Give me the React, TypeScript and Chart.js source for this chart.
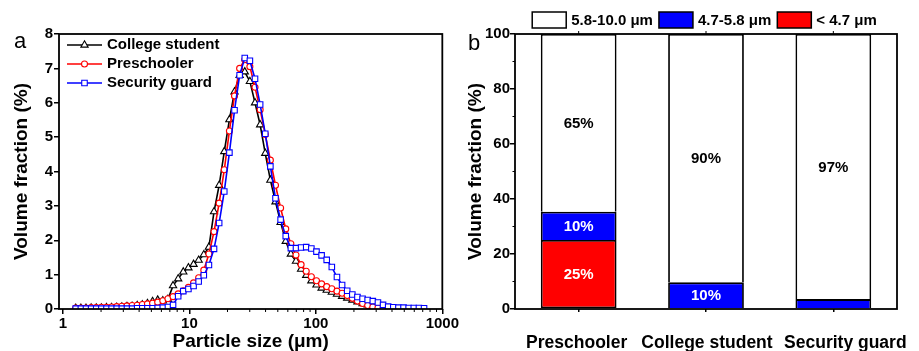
import React, { useEffect, useRef } from 'react';
import { Chart, registerables } from 'chart.js';

Chart.register(...registerables);

const FONT = "'Liberation Sans', Arial, Helvetica, sans-serif";

// ---------- Panel a: particle size distribution ----------
const particleSizes = [
  1.261, 1.385, 1.52, 1.669, 1.832, 2.011, 2.208, 2.423, 2.66, 2.92,
  3.206, 3.519, 3.863, 4.24, 4.655, 5.11, 5.61, 6.158, 6.76, 7.421,
  8.147, 8.943, 9.817, 10.78, 11.83, 12.99, 14.26, 15.65, 17.18, 18.86,
  20.71, 22.73, 24.95, 27.39, 30.07, 33.01, 36.24, 39.78, 43.67, 47.94,
  52.62, 57.77, 63.41, 69.61, 76.42, 83.89, 92.09, 101.1, 111.0, 121.8,
  133.7, 146.8, 161.2, 176.9, 194.2, 213.2, 234.1, 256.9, 282.1, 309.6,
  339.9, 373.1, 409.6, 449.7, 493.6, 541.9, 594.9, 653.0, 716.9,
];

const collegeStudent = [
  0.02, 0.02, 0.02, 0.03, 0.03, 0.03, 0.04, 0.04, 0.05, 0.06,
  0.07, 0.08, 0.1, 0.12, 0.16, 0.22, 0.26, 0.24, 0.28, 0.68,
  0.88, 1.08, 1.2, 1.3, 1.42, 1.58, 1.8, 2.83, 3.6, 4.58,
  5.51, 6.32, 6.8, 6.9, 6.62, 6.0, 5.36, 4.53, 3.75, 3.12,
  2.52, 1.97, 1.6, 1.39, 1.16, 0.98, 0.82, 0.7, 0.61, 0.55,
  0.49, 0.43, 0.37, 0.32, 0.26, 0.21, 0.16, 0.12, 0.07, 0.03,
  0.0, 0.0, null, null, null, null, null, null, null,
];

const preschooler = [
  0.03, 0.03, 0.03, 0.04, 0.04, 0.05, 0.05, 0.06, 0.07, 0.08,
  0.09, 0.1, 0.11, 0.13, 0.15, 0.17, 0.2, 0.24, 0.3, 0.36,
  0.44, 0.53, 0.63, 0.76, 0.91, 1.13, 1.6, 2.25, 3.08, 4.05,
  5.18, 6.2, 7.0, 7.25, 7.05, 6.45, 5.8, 5.08, 4.33, 3.6,
  2.94, 2.33, 1.9, 1.57, 1.29, 1.1, 0.94, 0.82, 0.73, 0.65,
  0.59, 0.52, 0.46, 0.39, 0.31, 0.23, 0.16, 0.1, 0.06, 0.03,
  0.01, 0.0, null, null, null, null, null, null, null,
];

const securityGuard = [
  0.01, 0.01, 0.01, 0.01, 0.01, 0.01, 0.01, 0.01, 0.01, 0.01,
  0.01, 0.01, 0.02, 0.02, 0.02, 0.02, 0.03, 0.04, 0.06, 0.12,
  0.37, 0.52, 0.58, 0.67, 0.8, 0.98, 1.28, 1.75, 2.5, 3.42,
  4.55, 5.78, 6.8, 7.3, 7.22, 6.7, 5.95, 5.1, 4.15, 3.22,
  2.6, 2.12, 1.77, 1.77, 1.79, 1.8, 1.76, 1.67, 1.56, 1.43,
  1.22, 0.93, 0.7, 0.53, 0.42, 0.35, 0.3, 0.26, 0.23, 0.19,
  0.12, 0.07, 0.05, 0.04, 0.04, 0.03, 0.03, 0.03, 0.02,
];

const seriesNames = ['College student', 'Preschooler', 'Security guard'];
const seriesColors = ['#000000', '#ff0000', '#0000ff'];
const seriesMarkers = ['triangle', 'circle', 'rect'];
const xTickValues = [1, 10, 100, 1000];
const xMinorMultipliers = [2, 3, 4, 5, 6, 7, 8, 9];

// ---------- Panel b: stacked volume fractions ----------
const groups = ['Preschooler', 'College student', 'Security guard'];
const groupLabelShift = [-2, 1, 12];
const fracBelow47 = [25.1, null, null];
const frac47to58 = [10.3, 9.7, 3.6];
const frac58to10 = [64.6, 90.3, 96.4];
const labelsBelow47 = ['25%', '', ''];
const labels47to58 = ['10%', '10%', ''];
const labels58to10 = ['65%', '90%', '97%'];
const binNames = ['5.8-10.0 μm', '4.7-5.8 μm', '< 4.7 μm'];
const binColors = ['#ffffff', '#0000ff', '#ff0000'];

const markerRadius = (style: string) => (style === 'circle' ? 3 : style === 'rect' ? 3.9 : 4.2);

function drawMarker(ctx: CanvasRenderingContext2D, style: string, x: number, y: number, r: number) {
  ctx.beginPath();
  if (style === 'triangle') {
    for (let k = 0; k < 3; k++) {
      const ang = (k * 2 * Math.PI) / 3;
      const px = x + Math.sin(ang) * r;
      const py = y - Math.cos(ang) * r;
      if (k === 0) ctx.moveTo(px, py);
      else ctx.lineTo(px, py);
    }
    ctx.closePath();
  } else if (style === 'circle') {
    ctx.arc(x, y, r, 0, Math.PI * 2);
  } else {
    const h = r * Math.SQRT1_2;
    ctx.rect(x - h, y - h, 2 * h, 2 * h);
  }
  ctx.fillStyle = '#fff';
  ctx.fill();
  ctx.stroke();
}

const leftDecor = {
  id: 'leftDecor',
  afterDraw(chart: any) {
    const { ctx, chartArea: a, scales } = chart;
    ctx.save();
    ctx.strokeStyle = '#000';
    ctx.lineWidth = 1.8;
    ctx.strokeRect(a.left, a.top, a.right - a.left, a.bottom - a.top);
    // minor ticks on log axis
    ctx.lineWidth = 1;
    for (const d of [1, 10, 100]) {
      for (const m of xMinorMultipliers) {
        const px = scales.x.getPixelForValue(d * m);
        ctx.beginPath();
        ctx.moveTo(px, a.bottom);
        ctx.lineTo(px, a.bottom + 3);
        ctx.stroke();
      }
    }
    // legend
    ctx.font = `bold 15px ${FONT}`;
    ctx.textBaseline = 'middle';
    ctx.textAlign = 'left';
    seriesNames.forEach((name, i) => {
      const y = a.top + 11 + i * 19;
      const x0 = a.left + 8;
      ctx.strokeStyle = seriesColors[i];
      ctx.lineWidth = 1.6;
      ctx.beginPath();
      ctx.moveTo(x0, y);
      ctx.lineTo(x0 + 35, y);
      ctx.stroke();
      ctx.lineWidth = 1.1;
      drawMarker(ctx, seriesMarkers[i], x0 + 17.5, y, markerRadius(seriesMarkers[i]));
      ctx.fillStyle = '#000';
      ctx.fillText(name, x0 + 40, y);
    });
    // panel letter
    ctx.font = `22px ${FONT}`;
    ctx.textBaseline = 'alphabetic';
    ctx.fillStyle = '#000';
    ctx.fillText('a', 14, 48);
    ctx.restore();
  },
};

const rightDecor = {
  id: 'rightDecor',
  afterDatasetsDraw(chart: any) {
    const { ctx } = chart;
    const lbls = [labelsBelow47, labels47to58, labels58to10];
    const colors = ['#ffffff', '#ffffff', '#000000'];
    ctx.save();
    ctx.font = `bold 15px ${FONT}`;
    ctx.textAlign = 'center';
    ctx.textBaseline = 'middle';
    chart.data.datasets.forEach((_ds: any, di: number) => {
      const meta = chart.getDatasetMeta(di);
      meta.data.forEach((bar: any, j: number) => {
        const t = lbls[di][j];
        if (!t) return;
        const { x, y, base } = bar.getProps(['x', 'y', 'base'], true);
        ctx.fillStyle = colors[di];
        ctx.fillText(t, x, (y + base) / 2 + 1);
      });
    });
    ctx.restore();
  },
  afterDraw(chart: any) {
    const { ctx, chartArea: a, scales } = chart;
    ctx.save();
    ctx.strokeStyle = '#000';
    ctx.lineWidth = 1.8;
    ctx.strokeRect(a.left, a.top, a.right - a.left, a.bottom - a.top);
    // minor y ticks
    ctx.lineWidth = 1;
    for (let v = 10; v < 100; v += 20) {
      const py = scales.y.getPixelForValue(v);
      ctx.beginPath();
      ctx.moveTo(a.left - 2.5, py);
      ctx.lineTo(a.left, py);
      ctx.stroke();
    }
    // top ticks at category centres
    groups.forEach((_g, i) => {
      const px = scales.x.getPixelForValue(i);
      ctx.beginPath();
      ctx.moveTo(px, a.top);
      ctx.lineTo(px, a.top - 3);
      ctx.stroke();
    });
    // category labels
    ctx.font = `bold 17.5px ${FONT}`;
    ctx.textAlign = 'center';
    ctx.textBaseline = 'middle';
    ctx.fillStyle = '#000';
    groups.forEach((g, i) => {
      ctx.fillText(g, scales.x.getPixelForValue(i) + groupLabelShift[i], a.bottom + 34.5);
    });
    // legend
    ctx.font = `bold 15px ${FONT}`;
    ctx.textBaseline = 'middle';
    ctx.textAlign = 'left';
    const bw = 34, bh = 16, gapText = 5, gapItem = 6;
    const widths = binNames.map((n) => ctx.measureText(n).width);
    const total = widths.reduce((s, w) => s + w + bw + gapText, 0) + gapItem * (binNames.length - 1);
    let x = (a.left + a.right) / 2 - 1.5 - total / 2;
    const yc = 20;
    binNames.forEach((n, i) => {
      ctx.fillStyle = binColors[i];
      ctx.fillRect(x, yc - bh / 2, bw, bh);
      ctx.lineWidth = 1.5;
      ctx.strokeStyle = '#000';
      ctx.strokeRect(x, yc - bh / 2, bw, bh);
      ctx.fillStyle = '#000';
      ctx.fillText(n, x + bw + gapText, yc + 0.5);
      x += bw + gapText + widths[i] + gapItem;
    });
    // panel letter
    ctx.font = `22px ${FONT}`;
    ctx.textBaseline = 'alphabetic';
    ctx.fillText('b', 8, 50);
    ctx.restore();
  },
};

export default function App() {
  const leftRef = useRef<HTMLCanvasElement | null>(null);
  const rightRef = useRef<HTMLCanvasElement | null>(null);

  useEffect(() => {
    const tickFont = { family: FONT, size: 15, weight: 'bold' as const };
    const titleFont = { family: FONT, size: 19, weight: 'bold' as const, lineHeight: 1.2 };

    const seriesData = [collegeStudent, preschooler, securityGuard];
    const left = new Chart(leftRef.current!, {
      type: 'line',
      data: {
        datasets: seriesNames.map((name, i) => ({
          label: name,
          data: particleSizes.map((s, k) => ({ x: s, y: seriesData[i][k] })),
          borderColor: seriesColors[i],
          backgroundColor: '#ffffff',
          pointBackgroundColor: '#ffffff',
          pointBorderColor: seriesColors[i],
          pointStyle: seriesMarkers[i] as any,
          pointRadius: markerRadius(seriesMarkers[i]),
          pointBorderWidth: 1.1,
          borderWidth: 1.6,
          tension: 0,
          spanGaps: false,
          order: 2 - i,
        })),
      },
      options: {
        animation: false,
        responsive: false,
        devicePixelRatio: 1,
        layout: { padding: { left: 0, right: 17, top: 34, bottom: 0 } },
        plugins: { legend: { display: false }, tooltip: { enabled: false } },
        scales: {
          x: {
            type: 'logarithmic',
            min: 0.93,
            max: 1000,
            border: { display: false },
            grid: { display: true, drawOnChartArea: false, drawTicks: true, tickLength: 5, color: '#000', lineWidth: 1.5 },
            ticks: { font: tickFont, color: '#000', padding: 1, autoSkip: false, maxRotation: 0, callback: (v: any) => String(v) },
            afterBuildTicks: (s: any) => {
              s.ticks = xTickValues.map((v) => ({ value: v, major: true }));
            },
            afterFit: (s: any) => {
              s.height = 42;
            },
            title: { display: true, text: 'Particle size (μm)', font: { ...titleFont, lineHeight: 1 }, color: '#000', padding: 0 },
          },
          y: {
            min: 0,
            max: 8,
            border: { display: false },
            grid: { display: true, drawOnChartArea: false, drawTicks: true, tickLength: 5, color: '#000', lineWidth: 1.5 },
            ticks: { stepSize: 1, font: tickFont, color: '#000', padding: 1 },
            afterFit: (s: any) => {
              s.width = 59;
            },
            title: { display: true, text: 'Volume fraction (%)', font: titleFont, color: '#000', padding: { top: 10.6, bottom: 0 } },
          },
        },
      },
      plugins: [leftDecor],
    });

    const barData = [fracBelow47, frac47to58, frac58to10];
    const right = new Chart(rightRef.current!, {
      type: 'bar',
      data: {
        labels: groups,
        datasets: [2, 1, 0].map((bi, k) => ({
          label: binNames[bi],
          data: barData[k],
          backgroundColor: binColors[bi],
          borderColor: '#000',
          borderWidth: 1.8,
          borderSkipped: k === 0 ? false : ('start' as const),
          barPercentage: 0.595,
          categoryPercentage: 1,
        })),
      },
      options: {
        animation: false,
        responsive: false,
        devicePixelRatio: 1,
        layout: { padding: { left: 0, right: 22, top: 34, bottom: 0 } },
        plugins: { legend: { display: false }, tooltip: { enabled: false } },
        scales: {
          x: {
            stacked: true,
            border: { display: false },
            grid: { display: true, offset: false, drawOnChartArea: false, drawTicks: true, tickLength: 3, color: '#000', lineWidth: 1.5 },
            ticks: { display: false },
            afterFit: (s: any) => {
              s.height = 42;
            },
          },
          y: {
            stacked: true,
            min: 0,
            max: 100,
            border: { display: false },
            grid: { display: true, drawOnChartArea: false, drawTicks: true, tickLength: 5, color: '#000', lineWidth: 1.5 },
            ticks: { stepSize: 20, font: tickFont, color: '#000', padding: 0 },
            afterFit: (s: any) => {
              s.width = 55;
            },
            title: { display: true, text: 'Volume fraction (%)', font: titleFont, color: '#000', padding: { top: 4.6, bottom: 0 } },
          },
        },
      },
      plugins: [rightDecor],
    });

    return () => {
      left.destroy();
      right.destroy();
    };
  }, []);

  return (
    <div style={{ position: 'fixed', left: 0, top: 0, width: 919, height: 351, background: '#fff', overflow: 'hidden' }}>
      <canvas ref={leftRef} width={460} height={351} style={{ position: 'absolute', left: 0, top: 0, width: 460, height: 351 }} />
      <canvas ref={rightRef} width={459} height={351} style={{ position: 'absolute', left: 460, top: 0, width: 459, height: 351 }} />
    </div>
  );
}
